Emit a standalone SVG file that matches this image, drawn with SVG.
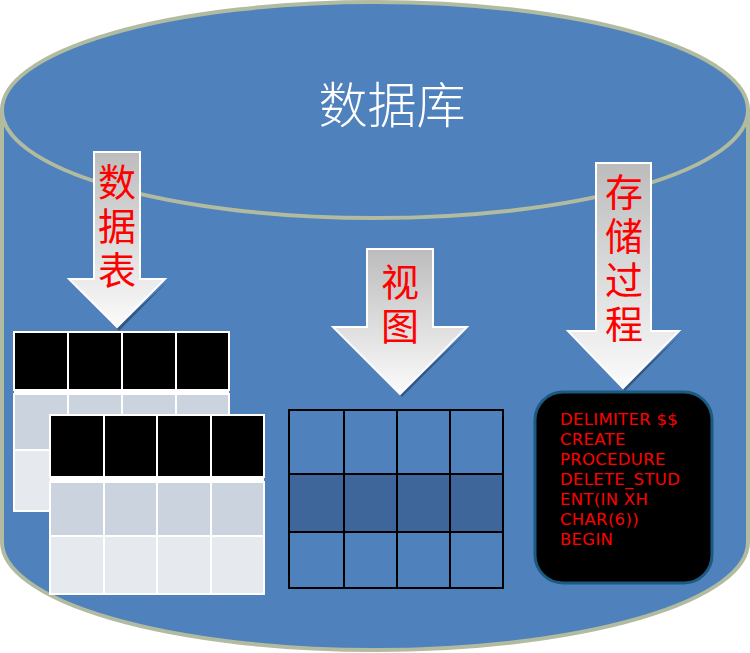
<svg xmlns="http://www.w3.org/2000/svg" width="750" height="653" viewBox="0 0 750 653">
<defs>
<linearGradient id="ag" x1="0" y1="0" x2="0" y2="1">
<stop offset="0" stop-color="#bcbcbc"/>
<stop offset="1" stop-color="#fbfbfb"/>
</linearGradient>
<style>
.cyl{fill:#4f81bd;stroke:#b0bb9f;stroke-width:4}
.arrow{fill:url(#ag);stroke:#ffffff;stroke-width:2}
.shadow{fill:#2c4a70;opacity:0.75}
.lbl{font-family:"Noto Sans CJK SC","Noto Sans",sans-serif;font-size:38px;fill:#ff0000;writing-mode:vertical-rl;text-orientation:upright;letter-spacing:6px}
.title{font-family:"Noto Sans CJK SC","Noto Sans",sans-serif;font-size:49px;fill:#ffffff;text-anchor:middle;font-weight:300}
.hd{fill:#000000;stroke:#ffffff;stroke-width:2}
.r1{fill:#cbd3de;stroke:#ffffff;stroke-width:2}
.r2{fill:#e6e9ee;stroke:#ffffff;stroke-width:2}
.vw{fill:none;stroke:#000000;stroke-width:2}
.code{font-family:"DejaVu Sans",Verdana,sans-serif;font-size:16.5px;letter-spacing:0.3px;fill:#ff0000}
</style>
</defs>
<g id="database">
<path class="cyl" d="M2,110 L2,542 A373,108 0 0 0 748,542 L748,110 Z"/>
<ellipse class="cyl" cx="375" cy="110" rx="373" ry="108"/>
<text class="title" x="392" y="123">数据库</text>
</g>
<g id="table-back">
<rect class="hd" x="14" y="332" width="54" height="58"/>
<rect class="hd" x="68" y="332" width="54" height="58"/>
<rect class="hd" x="122" y="332" width="54" height="58"/>
<rect class="hd" x="176" y="332" width="53" height="58"/>
<rect x="14" y="390" width="215" height="4" fill="#ffffff"/>
<rect class="r1" x="14" y="394" width="54" height="56"/>
<rect class="r1" x="68" y="394" width="54" height="56"/>
<rect class="r1" x="122" y="394" width="54" height="56"/>
<rect class="r1" x="176" y="394" width="53" height="56"/>
<rect class="r2" x="14" y="450" width="54" height="61"/>
<rect class="r2" x="68" y="450" width="54" height="61"/>
<rect class="r2" x="122" y="450" width="54" height="61"/>
<rect class="r2" x="176" y="450" width="53" height="61"/>
</g>
<g id="table-front">
<rect class="hd" x="50" y="415" width="54" height="62"/>
<rect class="hd" x="104" y="415" width="53" height="62"/>
<rect class="hd" x="157" y="415" width="54" height="62"/>
<rect class="hd" x="211" y="415" width="53" height="62"/>
<rect x="50" y="477" width="214" height="5" fill="#ffffff"/>
<rect class="r1" x="50" y="482" width="54" height="54"/>
<rect class="r1" x="104" y="482" width="53" height="54"/>
<rect class="r1" x="157" y="482" width="54" height="54"/>
<rect class="r1" x="211" y="482" width="53" height="54"/>
<rect class="r2" x="50" y="536" width="54" height="58"/>
<rect class="r2" x="104" y="536" width="53" height="58"/>
<rect class="r2" x="157" y="536" width="54" height="58"/>
<rect class="r2" x="211" y="536" width="53" height="58"/>
</g>
<g id="view">
<rect x="289" y="474" width="214" height="58" fill="#3f669a"/>
<rect class="vw" x="289" y="410" width="214" height="178"/>
<line class="vw" x1="289" y1="474" x2="503" y2="474" stroke-width="3.5"/>
<line class="vw" x1="289" y1="532" x2="503" y2="532"/>
<line class="vw" x1="344" y1="410" x2="344" y2="588"/>
<line class="vw" x1="397" y1="410" x2="397" y2="588"/>
<line class="vw" x1="450" y1="410" x2="450" y2="588"/>
</g>
<g id="procedure">
<rect x="535" y="392" width="177" height="191" rx="28" ry="28" fill="#000000" stroke="#1d5a80" stroke-width="3"/>
<text class="code" x="560"><tspan x="560" y="425">DELIMITER $$</tspan><tspan x="560" y="445">CREATE</tspan><tspan x="560" y="465">PROCEDURE</tspan><tspan x="560" y="485">DELETE_STUD</tspan><tspan x="560" y="505">ENT(IN XH</tspan><tspan x="560" y="525">CHAR(6))</tspan><tspan x="560" y="545">BEGIN</tspan></text>
</g>
<g id="connectors">
<g id="arrow-table">
<polygon class="shadow" points="71,282 119,331 167,282 119,326"/>
<polygon class="arrow" points="94,152 140,152 140,279 165,279 117,327 69,279 94,279"/>
<text class="lbl" x="117" y="163">数据表</text>
</g>
<g id="arrow-view">
<polygon class="shadow" points="335,330 402,397 469,330 402,392"/>
<polygon class="arrow" points="367,249 433,249 433,327 467,327 400,394 333,327 367,327"/>
<text class="lbl" x="400" y="263">视图</text>
</g>
<g id="arrow-procedure">
<polygon class="shadow" points="570,334 625,391 681,334 625,386"/>
<polygon class="arrow" points="596,163 651,163 651,331 679,331 623,388 568,331 596,331"/>
<text class="lbl" x="624" y="173">存储过程</text>
</g>
</g>
</svg>
